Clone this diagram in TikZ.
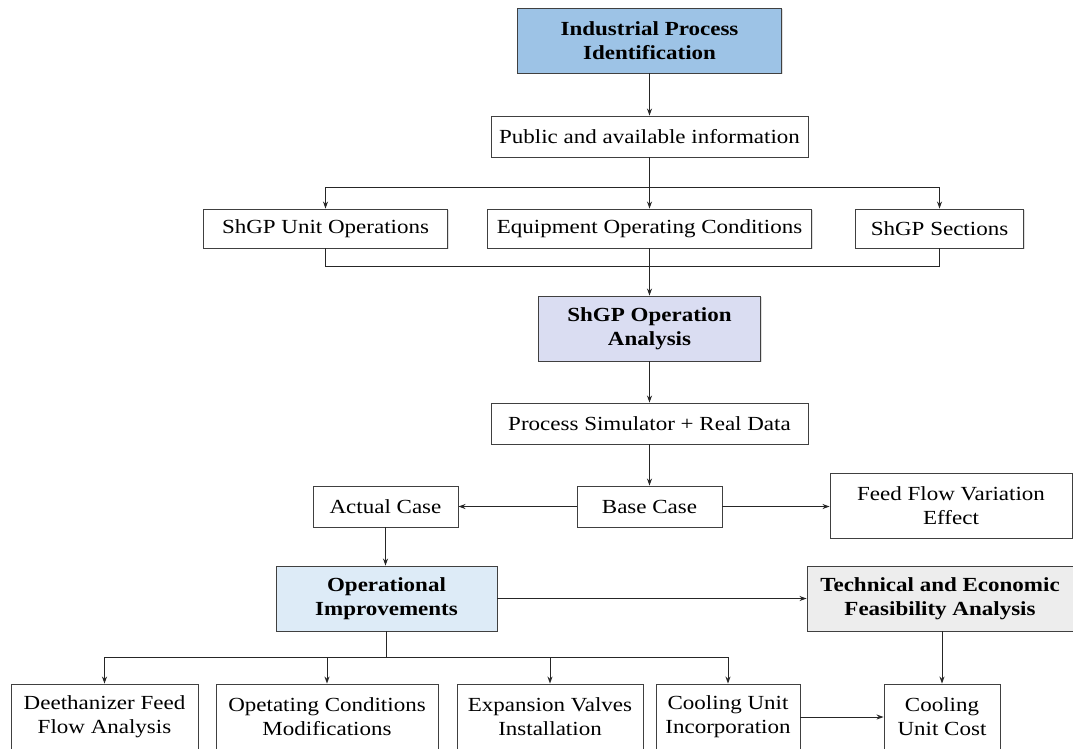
\documentclass[tikz,border=0pt]{standalone}
\usepackage{fontspec}
\setmainfont{Liberation Serif}[FakeStretch=1.15]
\usetikzlibrary{arrows.meta,shadows}
\definecolor{cblue}{HTML}{9DC3E6}
\definecolor{clav}{HTML}{DADDF2}
\definecolor{clight}{HTML}{DDEBF7}
\definecolor{cgrey}{HTML}{EDEDED}
\begin{document}
\begin{tikzpicture}[x=1pt,y=-1pt,
  box/.style={draw=black!75, line width=0.9pt, fill=white, inner sep=0pt, align=center,
    font=\fontsize{20}{24}\selectfont,
    drop shadow={opacity=0.25, shadow xshift=1.2pt, shadow yshift=-1.2pt}},
  bbox/.style={box, font=\fontsize{20}{24}\selectfont\bfseries},
  arr/.style={draw=black!85, line width=1pt, -{Stealth[length=7pt,width=5pt]}},
  ln/.style={draw=black!85, line width=1pt}]
\useasboundingbox (0,0) rectangle (1073,748);
\fill[white] (0,0) rectangle (1073,748);

\node[bbox, fill=cblue, minimum width=264, minimum height=65] (ipi) at (649.5,40.5) {Industrial Process\\Identification};
\node[box, minimum width=317, minimum height=41] (pub) at (649.5,136.5) {Public and available information};
\node[box, minimum width=244, minimum height=39] (unit) at (325.5,228.5) {ShGP Unit Operations};
\node[box, minimum width=324, minimum height=39] (equip) at (649.5,228.5) {Equipment Operating Conditions};
\node[box, minimum width=168, minimum height=39] (sect) at (939.5,228.5) {ShGP Sections};
\node[bbox, fill=clav, minimum width=222, minimum height=65] (ana) at (649.5,328.5) {ShGP Operation\\Analysis};
\node[box, minimum width=317, minimum height=41] (sim) at (649.5,423.5) {Process Simulator + Real Data};
\node[box, minimum width=145, minimum height=41] (actual) at (385.5,506.5) {Actual Case};
\node[box, minimum width=145, minimum height=41] (base) at (649.5,506.5) {Base Case};
\node[box, minimum width=242, minimum height=65] (feed) at (951,505.5) {Feed Flow Variation\\Effect};
\node[bbox, fill=clight, minimum width=221, minimum height=65] (opi) at (386.5,598.5) {Operational\\Improvements};
\node[bbox, fill=cgrey, minimum width=266, minimum height=65] (tech) at (940,598.5) {Technical and Economic\\Feasibility Analysis};
\node[box, minimum width=187, minimum height=66] (dee) at (104.5,717) {Deethanizer Feed\\Flow Analysis};
\node[box, minimum width=222, minimum height=66] (opc) at (327,717) {Opetating Conditions\\Modifications};
\node[box, minimum width=186, minimum height=66] (exp) at (550,717) {Expansion Valves\\Installation};
\node[box, minimum width=144, minimum height=66] (cool) at (728,717) {Cooling Unit\\Incorporation};
\node[box, minimum width=116, minimum height=66] (cost) at (942,717) {Cooling\\Unit Cost};

% connectors
\draw[arr] (ipi.south) -- (pub.north);
\coordinate (b1) at (649.5,187.5);
\draw[arr] (pub.south) -- (equip.north);
\draw[arr] (b1) -| (unit.north);
\draw[arr] (b1) -| (sect.north);
\coordinate (b0) at (649.5,266.5);
\draw[ln] (unit.south) |- (b0) -| (sect.south);
\draw[arr] (equip.south) -- (ana.north);
\draw[arr] (ana.south) -- (sim.north);
\draw[arr] (sim.south) -- (base.north);
\draw[arr] (base.west) -- (actual.east);
\draw[arr] (base.east) -- (base.east -| feed.west);
\draw[arr] (actual.south) -- (actual.south |- opi.north);
\draw[arr] (opi.east) -- (opi.east -| tech.west);
\coordinate (b2) at (386.5,657.5);
\draw[ln] (opi.south) -- (b2);
\draw[arr] (b2) -| (dee.north);
\draw[arr] (b2) -| (opc.north);
\draw[arr] (b2) -| (exp.north);
\draw[arr] (b2) -| (cool.north);
\draw[arr] (tech.south -| cost.north) -- (cost.north);
\draw[arr] (cool.east) -- (cool.east -| cost.west);
\end{tikzpicture}
\end{document}
